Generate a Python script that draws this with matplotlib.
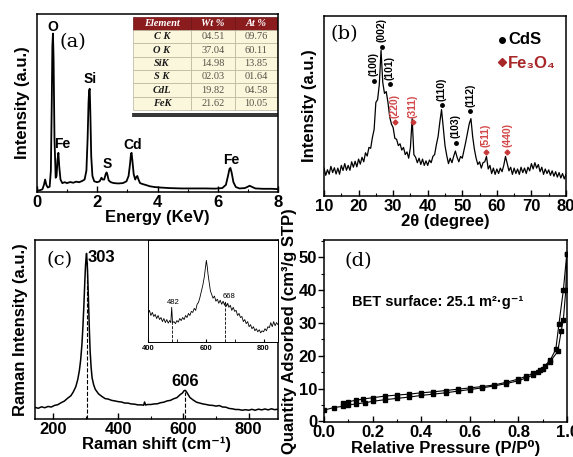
import matplotlib
matplotlib.use('Agg')
import matplotlib.pyplot as plt
from matplotlib.ticker import MultipleLocator

plt.rcParams['font.family'] = ['Liberation Sans', 'DejaVu Sans']
plt.rcParams['font.weight'] = 'bold'
plt.rcParams['axes.linewidth'] = 1.1

# ---------------- data ----------------
# (a) EDS spectrum
eds_energy = [0.00, 0.10, 0.18, 0.23, 0.27, 0.31, 0.36, 0.42, 0.46, 0.49, 0.51, 0.53,
              0.55, 0.58, 0.62, 0.65, 0.68, 0.71, 0.74, 0.78, 0.84, 0.92, 1.00, 1.10,
              1.20, 1.30, 1.40, 1.50, 1.58, 1.64, 1.68, 1.71, 1.73, 1.75, 1.77, 1.80,
              1.84, 1.90, 2.00, 2.08, 2.14, 2.18, 2.23, 2.28, 2.31, 2.34, 2.38, 2.45,
              2.55, 2.70, 2.85, 2.97, 3.04, 3.09, 3.12, 3.14, 3.17, 3.21, 3.26, 3.30,
              3.33, 3.37, 3.42, 3.50, 3.60, 3.75, 3.90, 4.10, 4.40, 4.80, 5.20, 5.60,
              5.90, 6.15, 6.27, 6.34, 6.39, 6.42, 6.46, 6.52, 6.60, 6.72, 6.90, 7.00,
              7.06, 7.12, 7.25, 7.50, 7.80, 8.00]
eds_counts = [0.8, 1.0, 1.5, 4.0, 7.0, 4.0, 2.5, 3.0, 12, 50, 82, 89,
              75, 30, 8, 9, 18, 22, 14, 7, 5.0, 5.5, 5.0, 5.6,
              5.2, 5.8, 5.5, 6.2, 7.0, 12, 30, 50, 57, 58, 45, 20,
              9, 6.0, 5.5, 6.0, 8.0, 7.0, 7.0, 10, 11, 9.5, 6.5, 5.5,
              5.0, 4.8, 5.0, 6.0, 9, 16, 21.5, 22, 17, 10, 7, 8.5,
              9, 7, 5.0, 4.5, 4.0, 3.2, 2.8, 2.5, 2.2, 2.0, 2.0, 2.0,
              1.9, 2.2, 4.0, 9, 13, 13.5, 11, 5.5, 2.8, 2.0, 2.2, 3.0,
              3.5, 3.0, 2.0, 1.8, 1.8, 1.6]
eds_peaks = ['O', 'Fe', 'Si', 'S', 'Cd', 'Fe']
eds_peak_pos = [0.53, 0.83, 1.78, 2.33, 3.17, 6.44]
eds_peak_lab_y = [92.5, 27, 63.5, 15.7, 26.4, 18]

table_cols = ['Element', 'Wt %', 'At %']
table_elements = ['C K', 'O K', 'SiK', 'S K', 'CdL', 'FeK']
table_wt = ['04.51', '37.04', '14.98', '02.03', '19.82', '21.62']
table_at = ['09.76', '60.11', '13.85', '01.64', '04.58', '10.05']

# (b) XRD pattern
xrd_2theta = [10.0, 10.5, 11.0, 11.5, 12.0, 12.5, 13.0, 13.5, 14.0, 14.5, 15.0, 15.5,
              16.0, 16.5, 17.0, 17.5, 18.0, 18.5, 19.0, 19.5, 20.0, 20.5, 21.0, 21.5,
              22.0, 22.5, 23.0, 23.5, 24.0, 24.5, 25.0, 25.5, 26.0, 26.5, 27.0, 27.5,
              28.0, 28.5, 29.0, 29.5, 30.0, 30.5, 31.0, 31.5, 32.0, 32.5, 33.0, 33.5,
              34.0, 34.5, 35.0, 35.5, 36.0, 36.5, 37.0, 37.5, 38.0, 38.5, 39.0, 39.5,
              40.0, 40.5, 41.0, 41.5, 42.0, 42.5, 43.0, 43.5, 44.0, 44.5, 45.0, 45.5,
              46.0, 46.5, 47.0, 47.5, 48.0, 48.5, 49.0, 49.5, 50.0, 50.5, 51.0, 51.5,
              52.0, 52.5, 53.0, 53.5, 54.0, 54.5, 55.0, 55.5, 56.0, 56.5, 57.0, 57.5,
              58.0, 58.5, 59.0, 59.5, 60.0, 60.5, 61.0, 61.5, 62.0, 62.5, 63.0, 63.5,
              64.0, 64.5, 65.0, 65.5, 66.0, 66.5, 67.0, 67.5, 68.0, 68.5, 69.0, 69.5,
              70.0, 70.5, 71.0, 71.5, 72.0, 72.5, 73.0, 73.5, 74.0, 74.5, 75.0, 75.5,
              76.0, 76.5, 77.0, 77.5, 78.0, 78.5, 79.0, 79.5, 80.0]
xrd_counts = [15.5, 11.5, 14.6, 12.1, 16.5, 13.0, 15.7, 12.2, 15.5, 12.1, 17.0, 14.2,
              18.0, 14.3, 17.0, 14.3, 19.0, 16.0, 19.3, 16.2, 20.5, 17.7, 21.5, 19.0,
              24.0, 22.2, 27.0, 26.5, 32.5, 37.0, 52.0, 53.5, 62.0, 81.0, 63.0, 57.0,
              58.0, 52.0, 44.0, 40.0, 38.0, 32.0, 31.5, 28.0, 29.0, 25.5, 27.0, 23.0,
              24.5, 21.0, 27.0, 43.0, 23.0, 21.5, 18.5, 21.0, 17.5, 20.5, 17.0, 19.5,
              17.0, 20.0, 18.5, 22.0, 23.0, 28.5, 33.0, 41.0, 48.0, 38.0, 28.0, 22.5,
              18.0, 21.0, 18.5, 22.0, 25.0, 21.5, 19.0, 22.0, 21.0, 25.5, 30.0, 35.0,
              40.0, 43.0, 33.0, 26.0, 21.0, 17.5, 19.0, 15.5, 18.5, 19.0, 22.0, 15.0,
              17.0, 12.5, 15.5, 12.0, 15.0, 12.5, 15.5, 13.5, 17.0, 22.0, 18.0, 14.0,
              16.0, 12.0, 15.5, 12.5, 15.0, 12.0, 16.0, 13.0, 15.5, 12.5, 16.0, 14.0,
              18.0, 15.0, 18.5, 15.5, 17.5, 13.5, 16.0, 12.0, 15.0, 12.5, 14.5, 11.5,
              14.0, 11.0, 13.5, 10.5, 13.0, 10.0, 12.5, 9.5, 12.0]
cds_hkl = ['(100)', '(002)', '(101)', '(110)', '(103)', '(112)']
cds_pos = [24.4, 26.7, 29.0, 44.0, 48.1, 52.3]
cds_mark_y = [64, 83, 62, 50.5, 29.5, 47]
fe3o4_hkl = ['(220)', '(311)', '(511)', '(440)']
fe3o4_pos = [30.5, 35.6, 56.8, 63.0]
fe3o4_mark_y = [41, 41, 24.5, 24.5]

# (c) Raman spectrum and inset
raman_shift = [145, 155, 165, 175, 185, 195, 205, 215, 225, 235, 245, 255, 262, 270,
               276, 281, 285, 289, 292, 295, 298, 300, 302, 303, 304, 306, 308, 310,
               312, 314, 317, 320, 325, 330, 340, 350, 360, 370, 380, 390, 400, 410,
               420, 430, 440, 450, 460, 470, 478, 481, 484, 490, 500, 510, 520, 530,
               540, 550, 560, 570, 580, 590, 597, 602, 606, 610, 615, 620, 630, 640,
               650, 660, 670, 680, 690, 700, 710, 720, 730, 740, 750, 760, 770, 780,
               790, 800, 810, 820, 830, 840, 850, 860, 870, 880, 890]
raman_int = [6.5, 6.0, 6.8, 6.3, 7.0, 6.7, 7.6, 8.0, 9.1, 10.0, 11.6, 13.0, 15.0, 18.0,
             22.0, 27.0, 33.0, 42.0, 52.0, 64.0, 78.0, 86.0, 91.0, 92.5, 90.0, 83.0, 72.0, 60.0,
             48.0, 38.0, 29.0, 23.0, 19.0, 16.5, 14.0, 12.6, 11.4, 11.1, 10.4, 10.1, 9.7, 9.5,
             8.9, 8.9, 8.4, 8.3, 7.9, 7.9, 7.7, 9.5, 7.8, 8.1, 8.1, 8.4, 8.5, 9.1,
             9.4, 10.1, 10.4, 11.3, 11.9, 13.6, 14.5, 15.8, 16.0, 15.0, 13.5, 12.0, 10.6, 9.4,
             8.9, 8.4, 8.1, 7.7, 7.6, 7.2, 7.5, 6.7, 6.6, 5.9, 5.7, 5.3, 5.3, 4.9,
             5.2, 4.9, 5.4, 4.9, 5.5, 5.1, 5.6, 5.1, 5.7, 5.2, 5.5]
raman_peaks = ['303', '606']
raman_peak_pos = [303, 606]
raman_peak_top = [88, 15]

inset_shift = [400, 405, 410, 415, 420, 425, 430, 435, 440, 445, 450, 455, 460, 465,
               470, 475, 479, 482, 485, 490, 495, 500, 505, 510, 515, 520, 525, 530,
               535, 540, 545, 550, 555, 560, 565, 570, 575, 580, 585, 590, 595, 598,
               602, 605, 608, 612, 616, 620, 625, 630, 635, 640, 645, 650, 655, 660,
               665, 668, 672, 676, 680, 685, 690, 695, 700, 705, 710, 715, 720, 725,
               730, 735, 740, 745, 750, 755, 760, 765, 770, 775, 780, 785, 790, 795,
               800, 805, 810, 815, 820, 825, 830, 835, 840, 845, 850]
inset_int = [28, 31, 26, 29, 25, 27, 23, 26, 22, 24, 20, 23, 19, 22,
             18.5, 21, 19, 34, 19, 20, 18, 21, 19.5, 23, 21, 24, 22, 26,
             24, 28, 26, 30, 29, 33, 31, 37, 39, 44, 50, 56, 64, 71,
             80, 74, 66, 58, 50, 47, 43, 45, 40, 42, 38, 41, 37, 40,
             36, 39, 35, 38, 34, 36, 31, 34, 30, 31, 26, 28, 24, 25,
             20, 22, 18, 20, 15, 17, 13, 15, 11, 13, 10, 12, 9, 11,
             10, 13, 11, 15, 14, 19, 15, 20, 16, 19, 17]
inset_peaks = ['482', '668']
inset_peak_pos = [482, 668]
inset_peak_top = [22, 37]

# (d) N2 isotherm
ads_p = [0.00, 0.04, 0.08, 0.10, 0.13, 0.17, 0.20, 0.25, 0.30, 0.35, 0.40, 0.45, 0.50,
         0.55, 0.60, 0.65, 0.70, 0.75, 0.80, 0.83, 0.86, 0.88, 0.90, 0.93, 0.962, 0.976,
         0.985, 0.995, 0.999]
ads_q = [3.4, 4.2, 4.6, 5.0, 5.3, 5.7, 6.1, 6.6, 7.0, 7.4, 7.9, 8.3, 8.7,
         9.2, 9.7, 10.2, 10.8, 11.5, 12.4, 13.2, 14.1, 14.9, 15.9, 18.2, 21.3, 27.5,
         31.0, 40.0, 51.0]
des_p = [0.999, 0.985, 0.967, 0.954, 0.932, 0.91, 0.89, 0.86, 0.83, 0.80, 0.75, 0.70,
         0.65, 0.60, 0.55, 0.50, 0.45, 0.40, 0.35, 0.30, 0.25, 0.20, 0.16, 0.13, 0.10, 0.08]
des_q = [51.0, 40.0, 29.8, 22.0, 18.8, 17.0, 15.6, 14.6, 13.7, 12.9, 11.9, 11.1,
         10.6, 10.2, 9.8, 9.4, 9.0, 8.7, 8.3, 8.0, 7.7, 7.2, 6.8, 6.4, 6.0, 5.5]

# ---------------- layout ----------------
W, H = 573, 457
fig = plt.figure(figsize=(W / 100, H / 100), dpi=100)
LAB = 12  # axis label / tick size


def px_axes(l, t, r, b):
    """Add axes from pixel box (left, top, right, bottom)"""
    return fig.add_axes([l / W, 1 - b / H, (r - l) / W, (b - t) / H])


def style_axes(ax):
    ax.tick_params(axis='both', labelsize=LAB, width=1.0)
    ax.tick_params(axis='x', which='major', direction='in', length=4, pad=2)
    ax.tick_params(axis='x', which='minor', direction='in', length=2.5, width=0.8)
    for lab in ax.get_xticklabels() + ax.get_yticklabels():
        lab.set_fontweight('bold')


panel_font = dict(family='DejaVu Serif', fontsize=14, fontweight='normal')

# (a) EDS
ax = px_axes(37, 14, 278, 192)
ax.plot(eds_energy, eds_counts, color='black', lw=1.3)
ax.set_xlim(0, 8)
ax.set_ylim(0, 100)
ax.set_yticks([])
ax.xaxis.set_major_locator(MultipleLocator(2))
ax.xaxis.set_minor_locator(MultipleLocator(1))
style_axes(ax)
ax.set_xlabel('Energy (KeV)', fontsize=LAB, fontweight='bold', labelpad=0)
ax.set_ylabel('Intensity (a.u.)', fontsize=LAB, fontweight='bold', labelpad=5)
for name, x, y in zip(eds_peaks, eds_peak_pos, eds_peak_lab_y):
    ax.text(x, y, name, fontsize=10, fontweight='bold', ha='center', va='center')
ax.text(1.2, 84, '(a)', ha='center', va='center', **panel_font)

rows = [[e, w, a] for e, w, a in zip(table_elements, table_wt, table_at)]
tab = ax.table(cellText=rows, colLabels=table_cols, cellLoc='center',
               colWidths=[0.40, 0.31, 0.29], bbox=[0.398, 0.46, 0.598, 0.525])
tab.auto_set_font_size(False)
for (r, c), cell in tab.get_celld().items():
    cell.set_linewidth(0.5)
    if r == 0:
        cell.set_facecolor('#8a1c1e')
        cell.set_edgecolor('#6a1214')
        cell.set_text_props(color='white', fontfamily='Liberation Serif',
                            fontstyle='italic', fontweight='bold', fontsize=7.5)
    else:
        cell.set_facecolor('#fbf7dc')
        cell.set_edgecolor('#b9b39a')
        if c == 0:
            cell._loc = 'left'
            cell.PAD = 0.06
            cell.set_text_props(color='#1a1a1a', fontfamily='Liberation Serif',
                                fontstyle='italic', fontweight='bold', fontsize=7.5)
        else:
            cell.set_text_props(color='#5a5048', fontfamily='Liberation Serif',
                                fontweight='normal', fontsize=7.5)
ax.plot([0.398, 0.996], [0.44, 0.44], transform=ax.transAxes, color='#222222', lw=1.3)
ax.plot([0.398, 0.996], [0.425, 0.425], transform=ax.transAxes, color='#222222', lw=1.3)

# (b) XRD
ax = px_axes(324, 16, 566, 196)
ax.plot(xrd_2theta, xrd_counts, color='black', lw=0.9)
ax.set_xlim(10, 80)
ax.set_ylim(0, 100)
ax.set_yticks([])
ax.xaxis.set_major_locator(MultipleLocator(10))
ax.xaxis.set_minor_locator(MultipleLocator(5))
style_axes(ax)
ax.set_xlabel('2θ (degree)', fontsize=LAB, fontweight='bold', labelpad=0)
ax.set_ylabel('Intensity (a.u.)', fontsize=LAB, fontweight='bold', labelpad=5)
ax.plot(cds_pos, cds_mark_y, 'o', color='black', ms=2.5, ls='none')
for hkl, x, y in zip(cds_hkl, cds_pos, cds_mark_y):
    ax.text(x, y + 2.5, hkl, rotation=90, ha='center', va='bottom',
            fontsize=7.5, fontweight='bold', color='black')
ax.plot(fe3o4_pos, fe3o4_mark_y, 'D', color='#c83a3a', ms=2.5, ls='none')
for hkl, x, y in zip(fe3o4_hkl, fe3o4_pos, fe3o4_mark_y):
    ax.text(x, y + 2.5, hkl, rotation=90, ha='center', va='bottom',
            fontsize=7.5, fontweight='bold', color='#d24848')
ax.plot([61.4], [86.7], 'o', color='black', ms=4)
ax.text(63.3, 86.7, 'CdS', fontsize=LAB, fontweight='bold', va='center')
ax.plot([61.4], [74.6], 'D', color='#a8282a', ms=4)
ax.text(63.3, 73.5, 'Fe₃O₄', fontsize=LAB, fontweight='bold', va='center',
        color='#a8282a')
ax.text(16.0, 90, '(b)', ha='center', va='center', **panel_font)

# (c) Raman
ax = px_axes(35, 240, 278, 419)
ax.plot(raman_shift, raman_int, color='black', lw=1.1)
ax.set_xlim(145, 890)
ax.set_ylim(0, 100)
ax.set_yticks([])
ax.xaxis.set_major_locator(MultipleLocator(200))
ax.xaxis.set_minor_locator(MultipleLocator(100))
style_axes(ax)
ax.set_xlabel('Raman shift (cm⁻¹)', fontsize=LAB, fontweight='bold', labelpad=0)
ax.set_ylabel('Raman Intensity (a.u.)', fontsize=LAB, fontweight='bold', labelpad=5)
for name, x, top in zip(raman_peaks, raman_peak_pos, raman_peak_top):
    ax.plot([x, x], [0, top], ls='--', color='black', lw=0.8)
ax.text(349, 90.5, '303', fontsize=LAB, fontweight='bold', ha='center', va='center')
ax.text(606, 21, '606', fontsize=LAB, fontweight='bold', ha='center', va='center')
ax.text(220, 89, '(c)', ha='center', va='center', **panel_font)

ins = px_axes(148, 240, 278, 342)
ins.plot(inset_shift, inset_int, color='black', lw=0.6)
ins.set_xlim(400, 850)
ins.set_ylim(0, 100)
ins.set_yticks([])
ins.set_xticks([400, 600, 800])
ins.xaxis.set_minor_locator(MultipleLocator(100))
ins.tick_params(axis='x', which='both', direction='in', labelsize=5.5, length=2, pad=2)
for sp in ins.spines.values():
    sp.set_linewidth(0.7)
for name, x, top in zip(inset_peaks, inset_peak_pos, inset_peak_top):
    ins.plot([x, x], [0, top], ls='--', color='black', lw=0.6)
ins.text(487, 39, '482', fontsize=5.5, fontweight='normal', ha='center', va='center')
ins.text(680, 45, '668', fontsize=5.5, fontweight='normal', ha='center', va='center')

# (d) isotherm
ax = px_axes(324, 240, 567, 422)
ax.plot(ads_p, ads_q, '-s', color='black', ms=2.6, lw=0.8)
ax.plot(des_p, des_q, '-s', color='black', ms=2.6, lw=0.8)
ax.set_xlim(0, 1.0)
ax.set_ylim(-0.2, 55.3)
ax.xaxis.set_major_locator(MultipleLocator(0.2))
ax.xaxis.set_minor_locator(MultipleLocator(0.1))
ax.yaxis.set_major_locator(MultipleLocator(10))
ax.yaxis.set_minor_locator(MultipleLocator(5))
ax.xaxis.set_major_formatter(plt.FormatStrFormatter('%.1f'))
style_axes(ax)
ax.tick_params(axis='y', which='major', direction='out', length=4, pad=1)
ax.tick_params(axis='y', which='minor', direction='out', length=2.5, width=0.8)
ax.set_xlabel('Relative Pressure (P/P⁰)', fontsize=LAB, fontweight='bold', labelpad=0)
ax.set_ylabel('Quantity Adsorbed (cm³/g STP)', fontsize=LAB, fontweight='bold', labelpad=1)
ax.text(0.115, 36.4, 'BET surface: 25.1 m²·g⁻¹', fontsize=10.5, fontweight='bold',
        va='center')
ax.text(0.14, 49, '(d)', ha='center', va='center', **panel_font)

fig.savefig('out.png', dpi=100)
